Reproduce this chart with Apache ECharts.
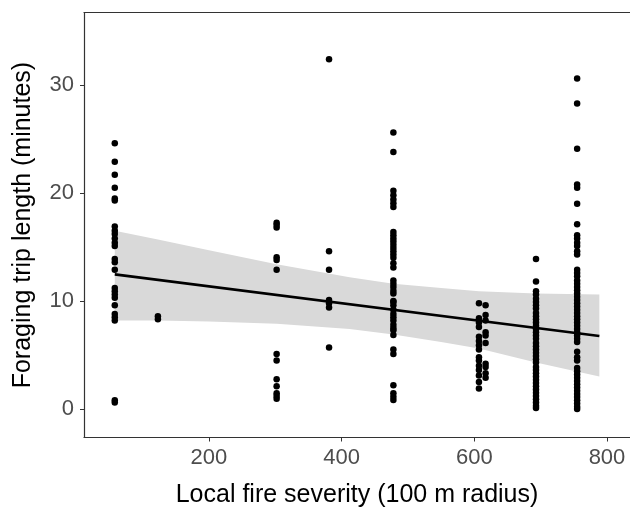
<!DOCTYPE html>
<html>
<head>
<meta charset="utf-8">
<script src="https://cdn.jsdelivr.net/npm/echarts@6/dist/echarts.min.js"></script>
<style>
  html, body { margin: 0; padding: 0; background: #fff; }
  #main { width: 630px; height: 507px; }
</style>
</head>
<body>
<div id="main"></div>
<script>
// fire severity of each sampled site (x), trip lengths read per site (y)
const severity = [58, 123, 302, 381, 478, 607, 617, 693, 755];
const tripMinutes = [
  [24.6, 22.9, 21.7, 20.5, 19.5, 19.3, 16.9, 16.5, 16.2, 15.8, 15.4, 15.1, 13.9, 13.6, 12.9,
   11.2, 10.9, 10.6, 10.3, 9.6, 8.8, 8.5, 8.2, 0.8, 0.6],
  [8.6, 8.3],
  [17.25, 17.06, 16.8, 14.05, 13.8, 12.9, 5.1, 4.5, 2.75, 2.1, 1.45, 1.2, 0.95],
  [32.4, 14.6, 12.9, 10.1, 9.8, 9.4, 5.7],
  [25.6, 23.8, 20.2, 19.8, 19.4, 19.05, 18.7, 16.4, 16.1, 15.8, 15.5, 15.2, 14.9, 14.6, 14.3,
   14.0, 13.5, 13.1, 11.9, 11.6, 11.3, 10.95, 10.7, 10.0, 9.9, 9.6, 9.2, 8.8, 8.5, 8.2, 7.8,
   7.5, 7.3, 6.85, 5.5, 5.1, 2.2, 1.45, 1.14, 0.83],
  [9.8, 8.4, 8.0, 7.6, 6.7, 6.3, 5.9, 5.5, 4.8, 4.5, 4.0, 3.6, 3.1, 2.5, 1.9],
  [9.6, 8.7, 8.2, 7.1, 6.8, 6.1, 4.2, 3.9, 3.3, 2.9],
  [13.9, 11.8, 10.9, 10.6, 10.2, 9.9, 9.6, 9.3, 8.9, 8.6, 8.3, 8.0, 7.7, 7.4, 7.1, 6.8, 6.5,
   6.1, 5.8, 5.5, 5.2, 4.9, 4.6, 4.3, 3.9, 3.6, 3.3, 3.0, 2.7, 2.4, 2.1, 1.8, 1.5, 1.2, 0.9,
   0.6, 0.3, 0.1],
  [30.6, 28.3, 24.1, 20.8, 20.5, 19.0, 17.1, 16.1, 15.8, 15.4, 15.1, 14.6, 14.3, 12.9, 12.6,
   12.3, 11.9, 11.6, 11.3, 11.0, 10.7, 10.4, 10.1, 9.8, 9.5, 9.2, 8.9, 8.6, 8.3, 8.0, 7.7, 7.4,
   7.1, 6.8, 6.5, 6.2, 5.3, 4.8, 4.5, 3.8, 3.5, 3.2, 2.9, 2.6, 2.3, 2.0, 1.7, 1.4, 1.1, 0.8,
   0.5, 0.2, 0.0]
];

// fitted line ends and confidence band
const fitX = [58, 788.5];
const fitY = [12.47, 6.76];
const bandX = [58, 123, 200, 302, 412, 478, 550, 607, 693, 788.5];
const bandUpper = [16.5, 15.7, 14.7, 13.4, 12.2, 11.6, 11.2, 10.9, 10.7, 10.6];
const bandLower = [8.2, 8.2, 8.1, 7.9, 7.4, 6.9, 6.2, 5.6, 4.3, 3.0];

const xTicks = [200, 400, 600, 800];
const yTicks = [0, 10, 20, 30];

const points = [];
severity.forEach((s, i) => {
  tripMinutes[i].forEach(v => points.push([s, v]));
});

const myChart = echarts.init(document.getElementById('main'));

const font = '"Liberation Sans", Arial, sans-serif';
const axisCol = '#333333';

const option = {
  backgroundColor: '#ffffff',
  animation: false,
  grid: { left: 84, top: 12.7, right: 0, bottom: 69.5, outerBoundsMode: 'none', containLabel: false },
  xAxis: [
    {
      type: 'value',
      min: 11.6,
      max: 834.7,
      name: 'Local fire severity (100 m radius)',
      nameLocation: 'middle',
      nameGap: 45,
      nameTextStyle: { fontFamily: font, fontSize: 25, color: '#000' },
      axisLine: { show: true, onZero: false, lineStyle: { color: axisCol, width: 1.2 } },
      axisTick: { show: true, length: 4, customValues: xTicks, lineStyle: { color: axisCol } },
      axisLabel: { customValues: xTicks, fontFamily: font, fontSize: 22, color: '#4d4d4d', margin: 9 },
      splitLine: { show: false }
    },
    {
      // top border line of the panel
      type: 'value',
      position: 'top',
      min: 11.6,
      max: 834.7,
      axisLine: { show: true, onZero: false, lineStyle: { color: axisCol, width: 1.2 } },
      axisTick: { show: false },
      axisLabel: { show: false },
      splitLine: { show: false }
    }
  ],
  yAxis: {
    type: 'value',
    min: -2.64,
    max: 36.7,
    name: 'Foraging trip length (minutes)',
    nameLocation: 'middle',
    nameGap: 48,
    nameTextStyle: { fontFamily: font, fontSize: 25, color: '#000' },
    axisLine: { show: true, onZero: false, lineStyle: { color: axisCol, width: 1.2 } },
    axisTick: { show: true, length: 4, customValues: yTicks, lineStyle: { color: axisCol } },
    axisLabel: { customValues: yTicks, fontFamily: font, fontSize: 22, color: '#4d4d4d', margin: 10 },
    splitLine: { show: false }
  },
  series: [
    {
      type: 'custom',
      name: 'band',
      silent: true,
      z: 1,
      renderItem: function (params, api) {
        const pts = [];
        for (let i = 0; i < bandX.length; i++) pts.push(api.coord([bandX[i], bandUpper[i]]));
        for (let i = bandX.length - 1; i >= 0; i--) pts.push(api.coord([bandX[i], bandLower[i]]));
        return {
          type: 'polygon',
          shape: { points: pts },
          style: { fill: '#d9d9d9', stroke: null }
        };
      },
      data: [[bandX[0], bandUpper[0]]]
    },
    {
      type: 'scatter',
      z: 2,
      symbolSize: 6.5,
      itemStyle: { color: '#000000', opacity: 1 },
      data: points
    },
    {
      type: 'line',
      z: 3,
      symbol: 'none',
      lineStyle: { color: '#000000', width: 2.6 },
      data: fitX.map((x, i) => [x, fitY[i]])
    }
  ]
};

myChart.setOption(option);
</script>
</body>
</html>
